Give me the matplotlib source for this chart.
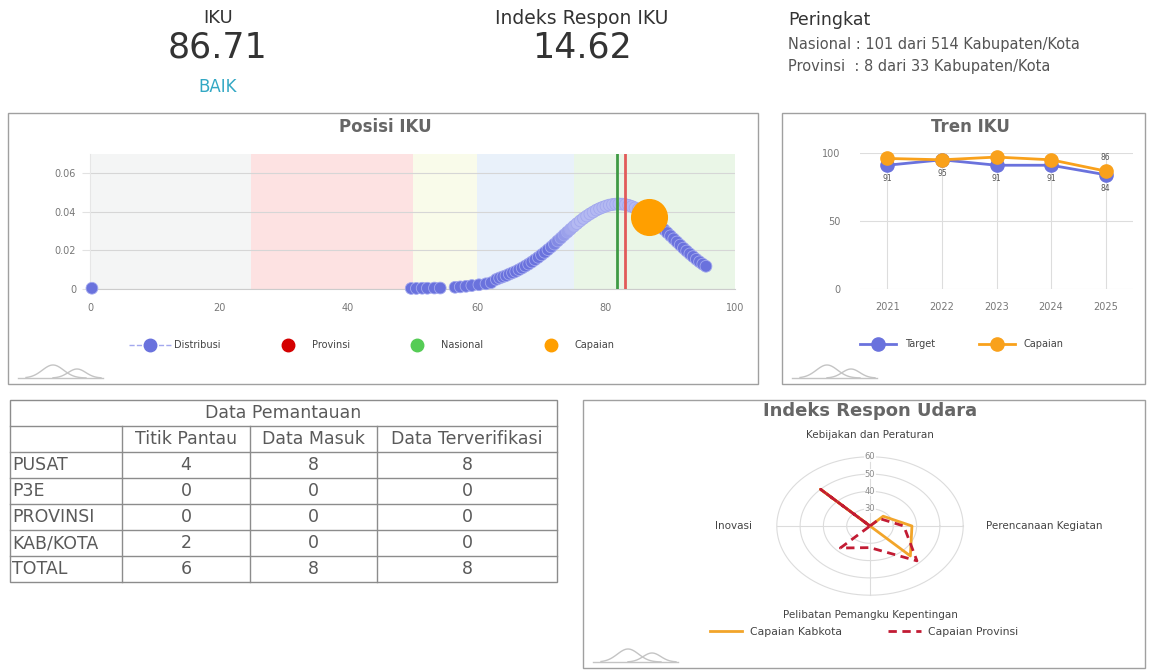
import matplotlib
matplotlib.use('Agg')
import matplotlib.pyplot as plt
from matplotlib.lines import Line2D
from matplotlib.patches import Rectangle
import numpy as np

W, H = 1153, 671

# ------------------------------------------------------------------ data
iku_label = "IKU"
iku_value = "86.71"
iku_status = "BAIK"
respon_label = "Indeks Respon IKU"
respon_value = "14.62"
rank_title = "Peringkat"
rank_nasional = "Nasional : 101 dari 514 Kabupaten/Kota"
rank_provinsi = "Provinsi  : 8 dari 33 Kabupaten/Kota"

dist_x = [0.3, 49.8, 50.6, 51.5, 52.3, 53.4, 54.3, 56.6, 57.4, 58.3, 59.2, 60.3, 61.4, 62.2,
          63.0, 63.5, 64.0, 64.5, 65.0, 65.5, 66.0, 66.5, 67.0, 67.5, 68.0, 68.5, 69.0, 69.5,
          70.0, 70.5, 71.0, 71.5, 72.0, 72.5, 73.0, 73.5, 74.0, 74.5, 75.0, 75.5, 76.0, 76.5,
          77.0, 77.5, 78.0, 78.5, 79.0, 79.5, 80.0, 80.5, 81.0, 81.5, 82.0, 82.5, 83.0, 83.5,
          84.0, 84.5, 85.0, 85.5, 86.0, 86.5, 87.0, 87.5, 88.0, 88.5, 89.0, 89.5, 90.0, 90.5,
          91.0, 91.5, 92.0, 92.5, 93.0, 93.5, 94.0, 94.5, 95.0, 95.5]
dist_y = [0.0004, 0.0003, 0.0003, 0.0004, 0.0004, 0.0005, 0.0005, 0.0009, 0.0011, 0.0014, 0.0018, 0.0022, 0.0027, 0.0033,
          0.0050, 0.0057, 0.0063, 0.0069, 0.0077, 0.0084, 0.0091, 0.0100, 0.0109, 0.0119, 0.0129, 0.0140, 0.0152, 0.0164,
          0.0177, 0.0190, 0.0204, 0.0218, 0.0233, 0.0249, 0.0264, 0.0280, 0.0295, 0.0310, 0.0325, 0.0339, 0.0353, 0.0366,
          0.0378, 0.0389, 0.0399, 0.0409, 0.0417, 0.0424, 0.0430, 0.0435, 0.0438, 0.0440, 0.0441, 0.0440, 0.0438, 0.0434,
          0.0428, 0.0421, 0.0413, 0.0403, 0.0392, 0.0380, 0.0368, 0.0354, 0.0339, 0.0324, 0.0308, 0.0292, 0.0276, 0.0260,
          0.0244, 0.0228, 0.0212, 0.0197, 0.0182, 0.0168, 0.0154, 0.0141, 0.0129, 0.0118]
nasional_x = 81.7
provinsi_x = 83.0
capaian_x = 86.71
capaian_y = 0.0372
band_edges = [0, 25, 50, 60, 75, 100]

tren_years = ['2021', '2022', '2023', '2024', '2025']
tren_target = [91, 95, 91, 91, 84]
tren_capaian = [96, 95, 97, 95, 86.71]

radar_axes = ['Kebijakan dan Peraturan', '', 'Perencanaan Kegiatan', '',
              'Pelibatan Pemangku Kepentingan', '', 'Inovasi', '']
radar_angles = [90, 45, 0, -45, -90, -135, 180, 135]
capaian_kabkota = [20, 28, 38, 44.5, 20, 20, 20, 50]
capaian_provinsi = [20, 26, 34.5, 48.5, 32.5, 38, 20, 50]
radar_min = 20
radar_ticks = [30, 40, 50, 60]

table_title = 'Data Pemantauan'
table_cols = ['Titik Pantau', 'Data Masuk', 'Data Terverifikasi']
table_rows = ['PUSAT', 'P3E', 'PROVINSI', 'KAB/KOTA', 'TOTAL']
titik_pantau = [4, 0, 0, 2, 6]
data_masuk = [8, 0, 0, 0, 8]
data_terverifikasi = [8, 0, 0, 0, 8]

# ------------------------------------------------------------------ styles
BLUE = '#6a72dd'
LIGHT = '#b4b9f2'
ORANGE = '#f9a11b'
TITLE_C = '#666666'
TICK_C = '#777777'
band_colors = ['#f4f5f5', '#fde2e2', '#f9fbea', '#e9f1fa', '#eaf6e7']

fig = plt.figure(figsize=(W / 100, H / 100), dpi=100)
fig.patch.set_facecolor('white')


def px_axes(l, t, r, b, **kw):
    return fig.add_axes([l / W, 1 - b / H, (r - l) / W, (b - t) / H], **kw)


ov = fig.add_axes([0, 0, 1, 1])
ov.set_xlim(0, W)
ov.set_ylim(H, 0)
ov.axis('off')

# ---- header texts
ov.text(218, 18, iku_label, ha='center', va='center', fontsize=13, color='#333333')
ov.text(218, 47, iku_value, ha='center', va='center', fontsize=25, color='#333333')
ov.text(218, 87, iku_status, ha='center', va='center', fontsize=12, color='#33a8c4')
ov.text(582, 18, respon_label, ha='center', va='center', fontsize=13.5, color='#333333')
ov.text(582, 47, respon_value, ha='center', va='center', fontsize=25, color='#333333')
ov.text(788, 20, rank_title, ha='left', va='center', fontsize=12.5, color='#333333')
ov.text(788, 44, rank_nasional, ha='left', va='center', fontsize=10.5, color='#555555')
ov.text(788, 66, rank_provinsi, ha='left', va='center', fontsize=10.5, color='#555555')

# ---- panel boxes
for (x0, y0, x1, y1) in [(8, 113, 758, 384), (782, 113, 1145, 384), (583, 400, 1145, 668)]:
    ov.add_patch(Rectangle((x0, y0), x1 - x0, y1 - y0, fill=False, ec='#a0a0a0', lw=1))


def logo(x0, y0):
    t = np.linspace(0, 1, 120)
    ov.plot([x0, x0 + 85], [y0, y0], color='#c4c4c4', lw=1)
    a = x0 + 8 + t * 60
    ov.plot(a, y0 - 13 * np.exp(-((t - 0.45) / 0.25) ** 2), color='#c4c4c4', lw=1)
    b = x0 + 35 + t * 48
    ov.plot(b, y0 - 9 * np.exp(-((t - 0.5) / 0.26) ** 2), color='#c4c4c4', lw=1)


logo(18, 378)
logo(792, 378)
logo(593, 662)

ov.text(385, 127, 'Posisi IKU', ha='center', va='center', fontsize=12, fontweight='bold', color=TITLE_C)
ov.text(970, 127, 'Tren IKU', ha='center', va='center', fontsize=12, fontweight='bold', color=TITLE_C)
ov.text(870, 411, 'Indeks Respon Udara', ha='center', va='center', fontsize=13, fontweight='bold', color=TITLE_C)

# ------------------------------------------------------------------ Posisi IKU
ax1 = px_axes(90, 154, 735, 289)
ax1.set_xlim(0, 100)
ax1.set_ylim(0, 0.07)
for i in range(len(band_edges) - 1):
    ax1.axvspan(band_edges[i], band_edges[i + 1], color=band_colors[i], lw=0, zorder=0)
ax1.set_yticks([0, 0.02, 0.04, 0.06])
ax1.set_yticklabels(['0', '0.02', '0.04', '0.06'])
ax1.set_xticks([0, 20, 40, 60, 80, 100])
ax1.yaxis.grid(True, color='#d6d6d6', lw=0.8, zorder=1)
ax1.set_axisbelow(True)
ax1.tick_params(axis='y', length=6, color='#e2e2e2', pad=4, labelsize=7, labelcolor=TICK_C)
ax1.tick_params(axis='x', length=0, pad=10, labelsize=7, labelcolor=TICK_C)
for s in ['top', 'right']:
    ax1.spines[s].set_visible(False)
ax1.spines['left'].set_color('#e6e6e6')
ax1.spines['bottom'].set_color('#cccccc')

xs = np.array(dist_x)
f = np.clip(np.minimum((xs - 71) / 4.5, (89.5 - xs) / 3.5), 0, 1)
c1 = np.array(matplotlib.colors.to_rgb(BLUE))
c2 = np.array(matplotlib.colors.to_rgb(LIGHT))
cols = [tuple(c1 * (1 - k) + c2 * k) for k in f]
ax1.scatter(dist_x, dist_y, s=72, c=cols, edgecolors='#a2a8ee', linewidths=0.6, zorder=3, clip_on=False)
ax1.axvline(nasional_x, color='#3f9a45', lw=2, zorder=4)
ax1.axvline(provinsi_x, color='#e25a5a', lw=2, zorder=4)
ax1.scatter([capaian_x], [capaian_y], s=660, color='#ff9f00', zorder=5, clip_on=False)

h1 = [Line2D([], [], color='#a3a8ee', ls='--', lw=1, marker='o', ms=9, mfc=BLUE, mec=BLUE),
      Line2D([], [], ls='none', marker='o', ms=9, mfc='#d40000', mec='#d40000'),
      Line2D([], [], ls='none', marker='o', ms=9, mfc='#55cc55', mec='#55cc55'),
      Line2D([], [], ls='none', marker='o', ms=9, mfc='#ff9f00', mec='#ff9f00')]
fig.legend(h1, ['Distribusi', 'Provinsi', 'Nasional', 'Capaian'], loc='center',
           bbox_to_anchor=(372 / W, 1 - 345 / H), ncol=4, frameon=False, fontsize=7,
           handlelength=4.3, handletextpad=0.3, columnspacing=4.8, labelcolor='#444444')

# ------------------------------------------------------------------ Tren IKU
ax2 = px_axes(860, 153, 1133, 289)
ax2.set_facecolor('none')
xi = np.arange(len(tren_years))
ax2.set_xlim(-0.5, len(tren_years) - 0.5)
ax2.set_ylim(0, 100)
ax2.set_xticks(xi)
ax2.set_xticklabels(tren_years)
ax2.set_yticks([0, 50, 100])
ax2.grid(True, color='#dddddd', lw=0.8)
ax2.set_axisbelow(True)
ax2.tick_params(axis='y', length=0, pad=14, labelsize=7, labelcolor=TICK_C)
ax2.tick_params(axis='x', length=0, pad=9, labelsize=7, labelcolor=TICK_C)
for s in ax2.spines.values():
    s.set_visible(False)
ax2.plot(xi, tren_target, color=BLUE, lw=2, marker='o', ms=9.5, zorder=3, clip_on=False)
ax2.plot(xi, tren_capaian, color=ORANGE, lw=2, marker='o', ms=9.5, zorder=4, clip_on=False)
for i, v in enumerate(tren_target):
    ax2.annotate(f"{int(v)}", (i, v), xytext=(0, -6.5), textcoords='offset points',
                 ha='center', va='top', fontsize=5.5, color='#555555', zorder=6)
ax2.annotate(f"{int(tren_capaian[-1])}", (xi[-1], tren_capaian[-1]), xytext=(0, 6.5),
             textcoords='offset points', ha='center', va='bottom', fontsize=5.5, color='#555555')

h2 = [Line2D([], [], color=BLUE, lw=2, marker='o', ms=9.5),
      Line2D([], [], color=ORANGE, lw=2, marker='o', ms=9.5)]
fig.legend(h2, ['Target', 'Capaian'], loc='center', bbox_to_anchor=(962 / W, 1 - 344 / H),
           ncol=2, frameon=False, fontsize=7, handlelength=3.7, handletextpad=0.9,
           columnspacing=4.5, labelcolor='#444444')

# ------------------------------------------------------------------ Table
col_edges = [10, 122, 250, 377, 557]
row_edges = [400, 426, 452, 478, 504, 530, 556, 582]
LC = '#8c8c8c'
ov.add_patch(Rectangle((col_edges[0], row_edges[0]), col_edges[-1] - col_edges[0],
                       row_edges[-1] - row_edges[0], fill=False, ec=LC, lw=1))
for y in row_edges[1:-1]:
    ov.plot([col_edges[0], col_edges[-1]], [y, y], color=LC, lw=1)
for x in col_edges[1:-1]:
    ov.plot([x, x], [row_edges[1], row_edges[-1]], color=LC, lw=1)


def rc(i):
    return (row_edges[i] + row_edges[i + 1]) / 2 + 0.5


def cc(j):
    return (col_edges[j] + col_edges[j + 1]) / 2


TC = '#5a5a5a'
ov.text((col_edges[0] + col_edges[-1]) / 2, rc(0), table_title, ha='center', va='center',
        fontsize=12.5, color=TC)
for j, name in enumerate(table_cols):
    ov.text(cc(j + 1), rc(1), name, ha='center', va='center', fontsize=12.5, color=TC)
for i, name in enumerate(table_rows):
    ov.text(col_edges[0] + 2, rc(i + 2), name, ha='left', va='center', fontsize=12.5, color=TC)
    for j, arr in enumerate([titik_pantau, data_masuk, data_terverifikasi]):
        ov.text(cc(j + 1), rc(i + 2), str(arr[i]), ha='center', va='center', fontsize=12.5, color=TC)

# ------------------------------------------------------------------ Radar
cx, cy = 870, 526
sx, sy = 2.33, 1.73          # pixels per value unit (x / y)
hw, hh = 110, 90
ax3 = px_axes(cx - hw, cy - hh, cx + hw, cy + hh)
ax3.set_xlim(-hw / sx, hw / sx)
ax3.set_ylim(-hh / sy, hh / sy)
ax3.axis('off')
ax3.patch.set_alpha(0)
th = np.linspace(0, 2 * np.pi, 300)
for t in radar_ticks:
    r = t - radar_min
    ax3.plot(r * np.cos(th), r * np.sin(th), color='#dcdcdc', lw=0.8, zorder=1)
rmax = radar_ticks[-1] - radar_min
ax3.plot([-rmax, rmax], [0, 0], color='#dcdcdc', lw=0.8, zorder=1)
ax3.plot([0, 0], [-rmax, rmax], color='#dcdcdc', lw=0.8, zorder=1)
for t in radar_ticks:
    ax3.text(0, t - radar_min, str(t), ha='center', va='center', fontsize=6, color='#888888', zorder=2,
             bbox=dict(fc='white', ec='none', pad=0.2, alpha=0.85))


def radar_xy(vals):
    a = np.deg2rad(np.array(radar_angles + radar_angles[:1], dtype=float))
    r = np.clip(np.array(vals + vals[:1], dtype=float) - radar_min, 0, None)
    return r * np.cos(a), r * np.sin(a)


kx, ky = radar_xy(capaian_kabkota)
ax3.plot(kx, ky, color='#f2a52a', lw=2, zorder=3, clip_on=False)
px_, py_ = radar_xy(capaian_provinsi)
ax3.plot(px_, py_, color='#c21b33', lw=2, ls=(0, (3, 2)), zorder=4, clip_on=False)

label_pos = {0: (0, (cy - 435) / sy, 'center'), 2: ((986 - cx) / sx, 0, 'left'),
             4: (0, -(615 - cy) / sy, 'center'), 6: (-(cx - 752) / sx, 0, 'right')}
for k, (lx, ly, ha) in label_pos.items():
    ax3.text(lx, ly, radar_axes[k], ha=ha, va='center', fontsize=7.5, color='#444444', clip_on=False)

h3 = [Line2D([], [], color='#f2a52a', lw=2),
      Line2D([], [], color='#c21b33', lw=2, ls=(0, (3, 2)))]
fig.legend(h3, ['Capaian Kabkota', 'Capaian Provinsi'], loc='center',
           bbox_to_anchor=(864 / W, 1 - 632 / H), ncol=2, frameon=False, fontsize=7.8,
           handlelength=3.0, handletextpad=0.7, columnspacing=4.3, labelcolor='#444444')

fig.savefig('out.png', dpi=100, facecolor='white')
